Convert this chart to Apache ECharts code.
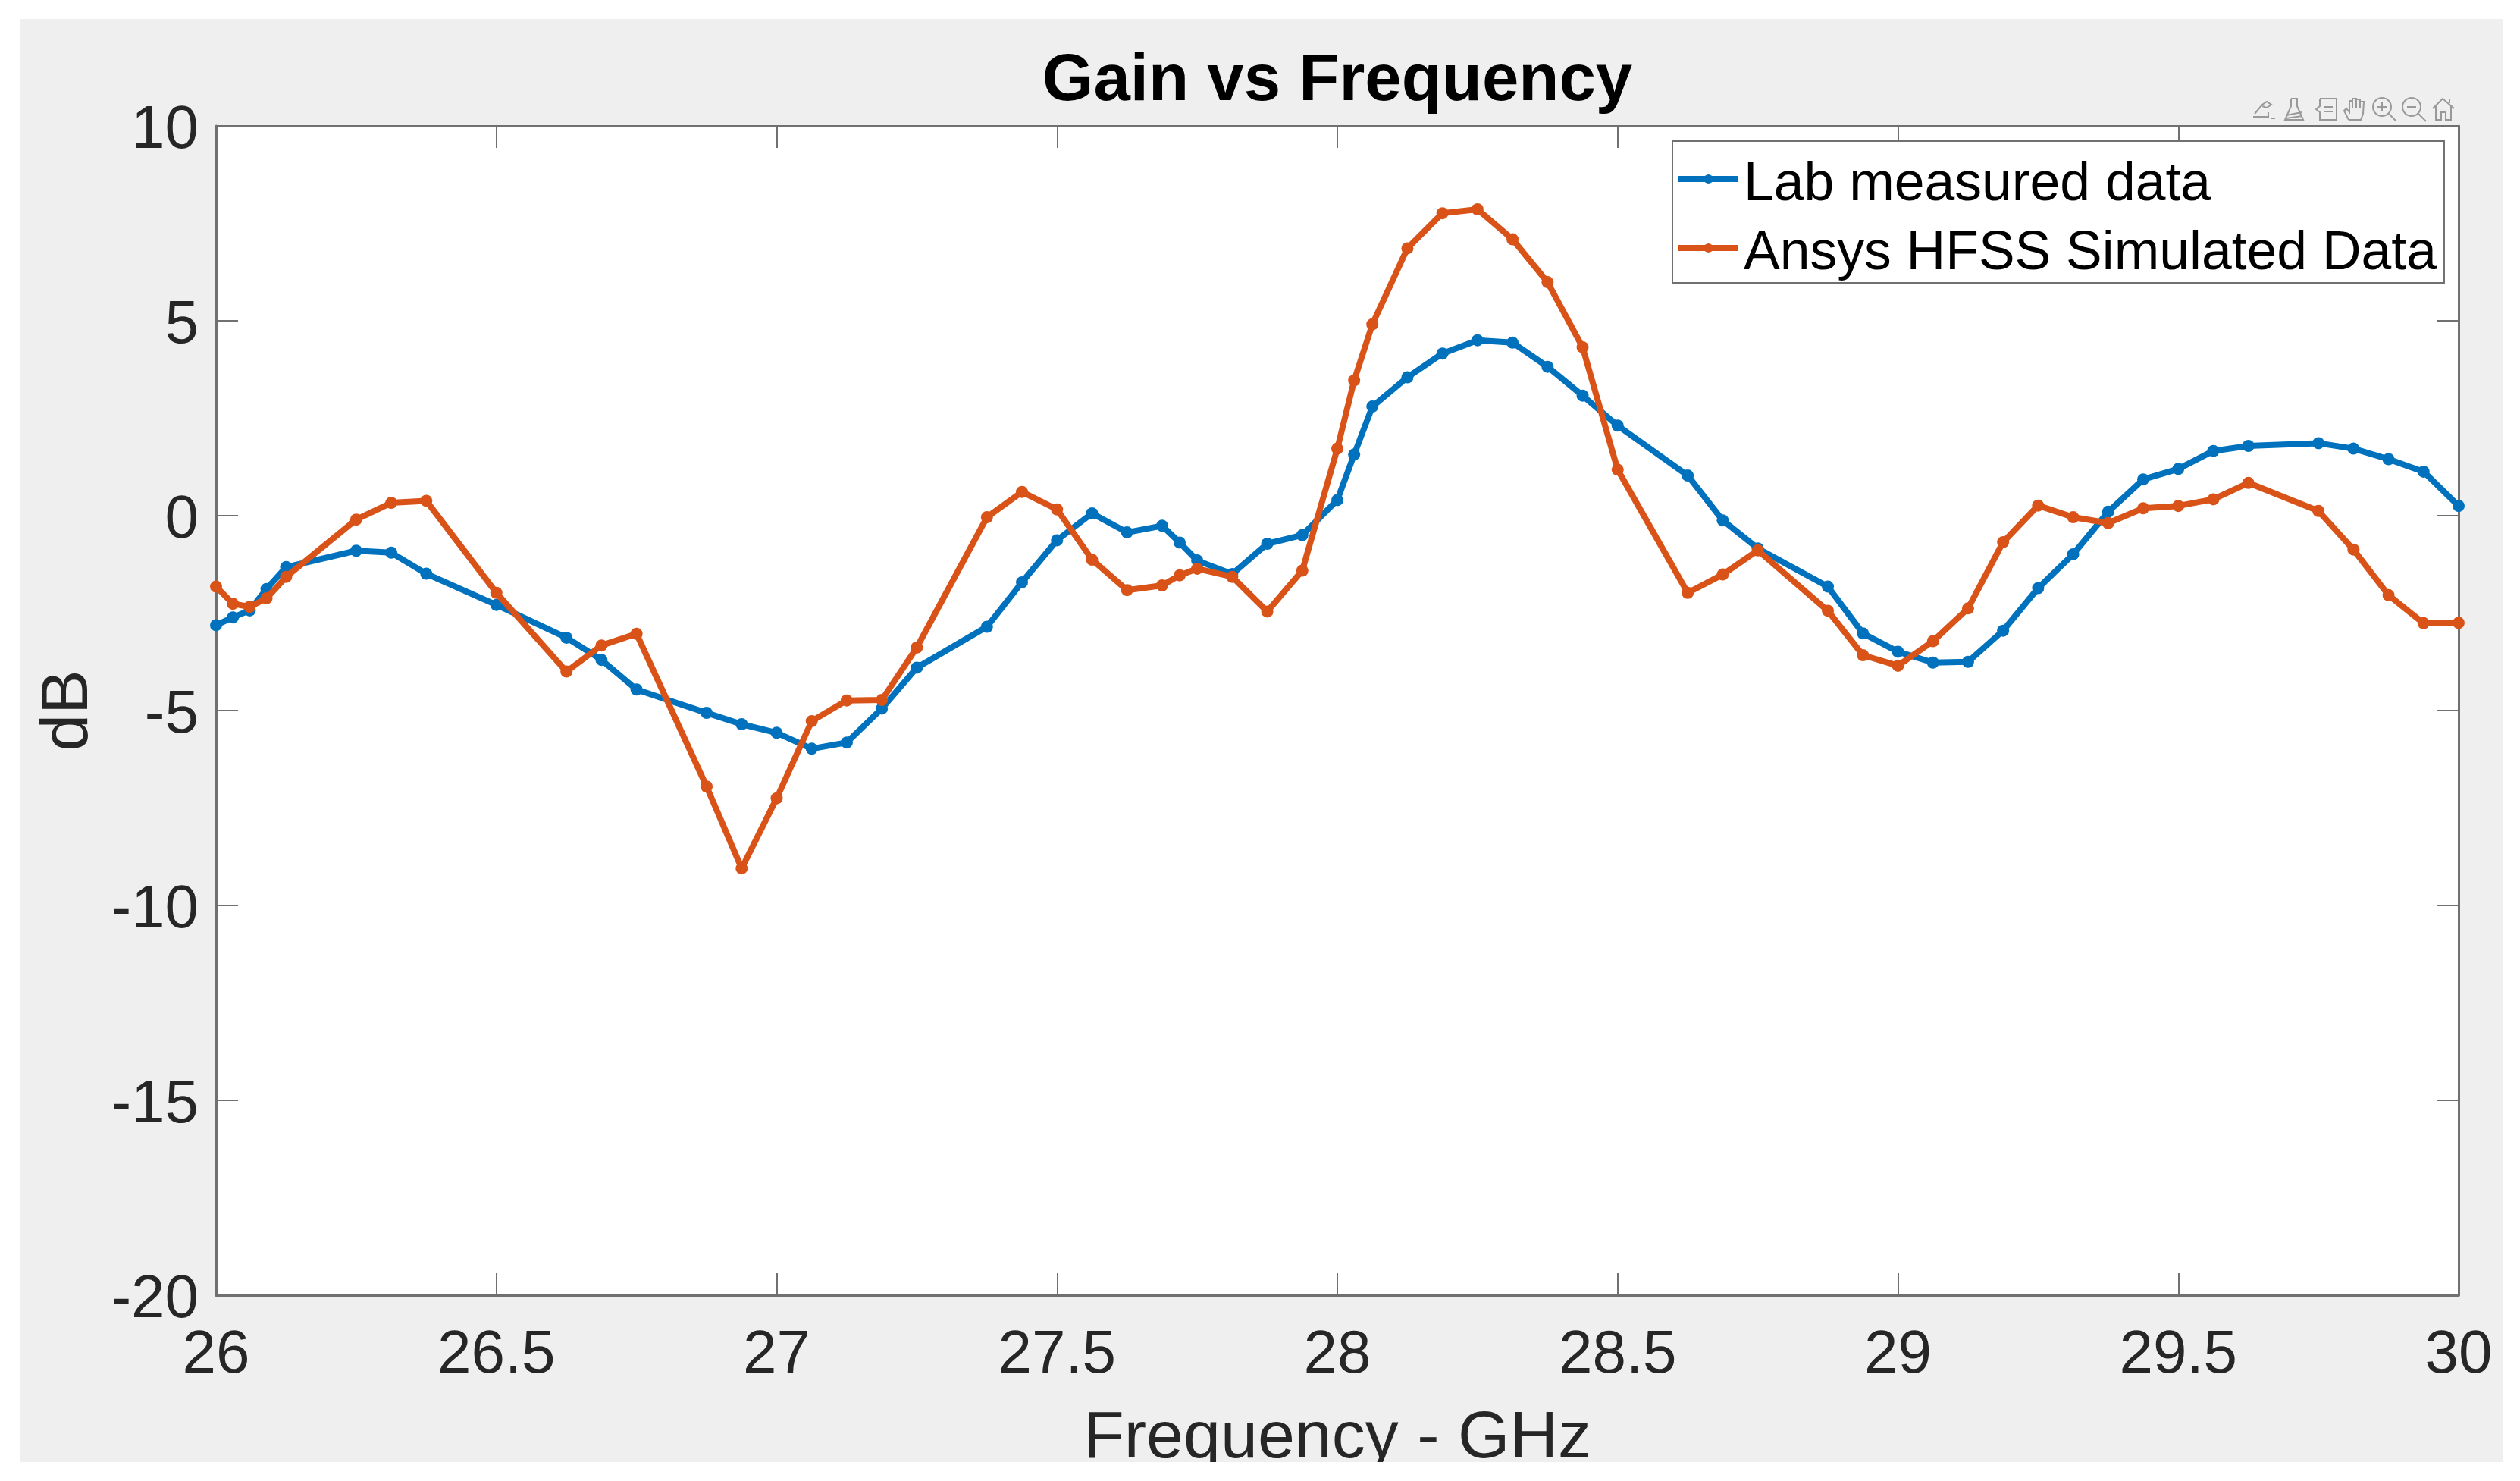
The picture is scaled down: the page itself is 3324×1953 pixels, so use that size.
<!DOCTYPE html>
<html><head><meta charset="utf-8">
<style>html,body{margin:0;padding:0;background:#fff}#c{width:3324px;height:1953px}</style>
<script src="https://cdn.jsdelivr.net/npm/echarts@6/dist/echarts.min.js"></script>
</head><body><div id="c"></div>
<script>
const chartTitle = 'Gain vs Frequency';
const xName = 'Frequency - GHz';
const yName = 'dB';
const seriesNames = ['Lab measured data', 'Ansys HFSS Simulated Data'];
const frequencies = [26,26.03,26.06,26.09,26.125,26.25,26.3125,26.375,26.5,26.625,26.6875,26.75,26.875,26.9375,27,27.0625,27.125,27.1875,27.25,27.375,27.4375,27.5,27.5625,27.625,27.6875,27.71875,27.75,27.8125,27.875,27.9375,28,28.03,28.0625,28.125,28.1875,28.25,28.3125,28.375,28.4375,28.5,28.625,28.6875,28.75,28.875,28.9375,29,29.0625,29.125,29.1875,29.25,29.3125,29.375,29.4375,29.5,29.5625,29.625,29.75,29.8125,29.875,29.9375,30];
const labMeasured = [-2.81,-2.61,-2.43,-1.88,-1.32,-0.90,-0.95,-1.49,-2.29,-3.13,-3.70,-4.46,-5.06,-5.35,-5.57,-5.98,-5.82,-4.95,-3.90,-2.85,-1.71,-0.63,0.06,-0.43,-0.26,-0.69,-1.15,-1.50,-0.72,-0.50,0.40,1.57,2.80,3.55,4.16,4.50,4.44,3.82,3.08,2.31,1.03,-0.12,-0.84,-1.82,-3.02,-3.49,-3.77,-3.75,-2.95,-1.86,-0.99,0.10,0.93,1.20,1.66,1.79,1.86,1.72,1.45,1.13,0.25];
const hfssSimulated = [-1.82,-2.26,-2.34,-2.12,-1.57,-0.10,0.33,0.38,-1.98,-4.00,-3.33,-3.03,-6.95,-9.05,-7.25,-5.27,-4.74,-4.73,-3.38,-0.04,0.61,0.16,-1.13,-1.91,-1.79,-1.53,-1.36,-1.57,-2.46,-1.41,1.72,3.47,4.91,6.86,7.76,7.86,7.09,5.99,4.32,1.18,-1.98,-1.51,-0.89,-2.44,-3.58,-3.85,-3.22,-2.38,-0.68,0.26,-0.04,-0.19,0.19,0.25,0.42,0.84,0.12,-0.87,-2.04,-2.76,-2.75];

const FONT = '"Liberation Sans", Arial, sans-serif';
const AXIS = '#707070', TXT = '#262626';
const toPairs = ys => frequencies.map((f, i) => [f, ys[i]]);
const chart = echarts.init(document.getElementById('c'), null, {renderer: 'canvas'});

const iconStyle = {fill: 'none', stroke: '#999999', lineWidth: 2};
const pl = (x, points) => ({type: 'polyline', silent: true, z: 20, x, y: 128, shape: {points}, style: iconStyle});
const ci = (x, cx, cy, r) => ({type: 'circle', silent: true, z: 20, x, y: 128, shape: {cx, cy, r}, style: iconStyle});
const icons = [
  pl(2970, [[4,22],[14,10],[20,6],[26,10],[20,14],[14,12]]), pl(2970, [[2,26],[22,26],[22,20]]), pl(2970, [[26,28],[31,28]]),
  pl(3012, [[10,2],[18,2],[18,12],[26,30],[2,30],[10,12],[10,2]]), pl(3012, [[4,24],[24,20]]), pl(3012, [[3,28],[25,25]]),
  pl(3052, [[8,2],[30,2],[30,30],[8,30],[8,20],[3,16],[8,12],[8,2]]), pl(3052, [[13,13],[25,13]]), pl(3052, [[13,19],[25,19]]),
  pl(3090, [[8,30],[2,18],[5,15],[9,20],[9,5],[13,5],[13,14],[13,2],[18,2],[18,14],[18,3],[23,3],[23,14],[23,6],[28,6],[27,22],[24,30],[8,30]]),
  ci(3129,13,13,12), pl(3129, [[22,22],[32,32]]), pl(3129, [[13,7],[13,19]]), pl(3129, [[7,13],[19,13]]),
  ci(3168,13,13,12), pl(3168, [[22,22],[32,32]]), pl(3168, [[7,13],[19,13]]),
  pl(3207, [[2,15],[15,2],[30,15]]), pl(3207, [[6,12],[6,30],[13,30],[13,20],[19,20],[19,30],[26,30],[26,12]]), pl(3207, [[24,3],[24,8]])
];

const xCommon = {type: 'value', min: 26, max: 30, interval: 0.5,
  axisLine: {show: true, onZero: false, lineStyle: {color: AXIS, width: 3}},
  axisTick: {show: true, inside: true, length: 29, lineStyle: {color: AXIS, width: 2}},
  splitLine: {show: false}};
const yCommon = {type: 'value', min: -20, max: 10, interval: 5,
  axisLine: {show: true, onZero: false, lineStyle: {color: AXIS, width: 3}},
  axisTick: {show: true, inside: true, length: 29, lineStyle: {color: AXIS, width: 2}},
  splitLine: {show: false}};

chart.setOption({
  animation: false,
  backgroundColor: '#ffffff',
  textStyle: {fontFamily: FONT},
  title: {text: chartTitle, left: 1759, top: 60, textAlign: 'center',
    textStyle: {fontFamily: FONT, fontWeight: 'bold', fontSize: 87, color: '#000'}},
  grid: {left: 285, top: 166, width: 2958, height: 1542, show: true, backgroundColor: '#fff', borderWidth: 0},
  legend: {left: 2206, top: 186, orient: 'vertical', backgroundColor: '#fff', borderColor: AXIS, borderWidth: 2,
    padding: [6, 10, 2, 4], itemGap: 3, itemWidth: 79, itemHeight: 15,
    lineStyle: {width: 8},
    formatter: name => '{a|' + name + '}',
    textStyle: {fontFamily: FONT, fontSize: 71.5, color: '#000',
      rich: {a: {fontFamily: FONT, fontSize: 71.5, color: '#000', lineHeight: 66, padding: [16, 0, 0, 2]}}},
    data: seriesNames},
  xAxis: [
    Object.assign({}, xCommon, {position: 'bottom', name: xName, nameLocation: 'middle', nameGap: 146,
      nameTextStyle: {fontFamily: FONT, fontSize: 88, color: TXT},
      axisLabel: {fontFamily: FONT, fontSize: 80, color: TXT, margin: 40}}),
    Object.assign({}, xCommon, {position: 'top', axisLabel: {show: false}})
  ],
  yAxis: [
    Object.assign({}, yCommon, {position: 'left', name: yName, nameLocation: 'middle', nameGap: 150, nameRotate: 90,
      nameTextStyle: {fontFamily: FONT, fontSize: 88, color: TXT},
      axisLabel: {fontFamily: FONT, fontSize: 80, color: TXT, margin: 23, verticalAlign: 'top', lineHeight: 14}}),
    Object.assign({}, yCommon, {position: 'right', axisLabel: {show: false}})
  ],
  series: [
    {name: seriesNames[0], type: 'line', data: toPairs(labMeasured), symbol: 'circle', symbolSize: 16, clip: false,
      lineStyle: {color: '#0072BD', width: 8}, itemStyle: {color: '#0072BD'}, z: 3},
    {name: seriesNames[1], type: 'line', data: toPairs(hfssSimulated), symbol: 'circle', symbolSize: 16, clip: false,
      lineStyle: {color: '#D95319', width: 8}, itemStyle: {color: '#D95319'}, z: 4}
  ],
  graphic: [
    {type: 'rect', z: -10, silent: true, shape: {x: 26, y: 25, width: 3275, height: 1903}, style: {fill: '#efefef'}},
    {type: 'rect', z: 100, zlevel: 1, silent: true, shape: {x: 0, y: 1928, width: 3324, height: 25}, style: {fill: '#ffffff'}}
  ].concat(icons)
});
</script></body></html>
